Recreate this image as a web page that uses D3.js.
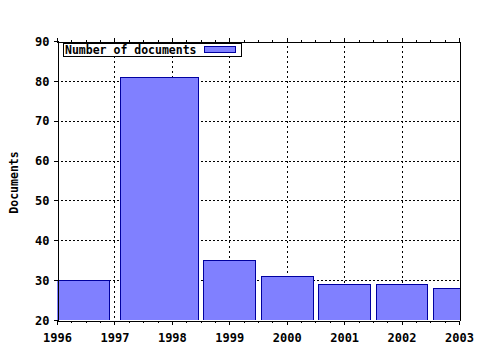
<!DOCTYPE html>
<html><head><meta charset="utf-8">
<script src="https://cdn.jsdelivr.net/npm/d3@7"></script>
<style>body{margin:0;background:#fff}svg{display:block}</style>
</head><body>
<svg id="c" width="480" height="350"></svg>
<script>
const years = [1996, 1998, 1999, 2000, 2001, 2002, 2003];
const documents = [30, 81, 35, 31, 29, 29, 28];
const xTickValues = [1996, 1997, 1998, 1999, 2000, 2001, 2002, 2003];
const yTickValues = [20, 30, 40, 50, 60, 70, 80, 90];
const seriesName = "Number of documents";
const yTitle = "Documents";
const boxFraction = 0.9;

const W = 480, H = 350;
const plot = {left: 57, right: 459, top: 41, bottom: 320};
const FONT = "'DejaVu Sans Mono', monospace";
const fill = "#8080ff", stroke = "#0000a0";

const svg = d3.select("#c");
svg.append("rect").attr("width", W).attr("height", H).attr("fill", "#fff");

const x = d3.scaleLinear().domain([xTickValues[0], xTickValues[xTickValues.length-1]]).range([plot.left, plot.right]);
const y = d3.scaleLinear().domain([yTickValues[0], yTickValues[yTickValues.length-1]]).range([plot.bottom, plot.top]);

// grid
const grid = svg.append("g").attr("stroke", "#000").attr("stroke-width", 1).attr("shape-rendering", "crispEdges");
grid.selectAll("line.gy").data(yTickValues.slice(1, -1)).join("line")
  .attr("stroke-dasharray", "2,2")
  .attr("x1", plot.left).attr("x2", plot.right)
  .attr("y1", d => Math.round(y(d)) + 0.5).attr("y2", d => Math.round(y(d)) + 0.5);
grid.selectAll("line.gx").data(xTickValues.slice(1, -1)).join("line")
  .attr("stroke-dasharray", "2,3")
  .attr("y1", plot.top).attr("y2", plot.bottom)
  .attr("x1", d => Math.round(x(d)) + 0.5).attr("x2", d => Math.round(x(d)) + 0.5);

// bars (gnuplot-style auto box widths)
const n = years.length;
const boxes = years.map((yr, i) => {
  const lh = i > 0 ? (yr - years[i-1]) / 2 : (years[1] - years[0]) / 2;
  const rh = i < n - 1 ? (years[i+1] - yr) / 2 : lh;
  return {lo: yr - boxFraction * lh, hi: yr + boxFraction * rh, v: documents[i]};
});
svg.append("clipPath").attr("id", "clip").append("rect")
  .attr("x", plot.left).attr("y", plot.top).attr("width", plot.right - plot.left + 1).attr("height", plot.bottom - plot.top);
svg.append("g").attr("clip-path", "url(#clip)")
  .selectAll("rect").data(boxes).join("rect")
  .attr("x", d => Math.round(x(d.lo)) + 0.5)
  .attr("y", d => Math.round(y(d.v)) + 0.5)
  .attr("width", d => Math.round(x(d.hi)) - Math.round(x(d.lo)))
  .attr("height", d => Math.round(y(yTickValues[0])) - Math.round(y(d.v)))
  .attr("fill", fill).attr("stroke", stroke).attr("stroke-width", 1)
  .attr("shape-rendering", "crispEdges");

// axes
const minorTicks = d3.range(xTickValues[0], xTickValues[xTickValues.length-1], 0.25).filter(v => v % 1 !== 0);
const gB = svg.append("g").attr("transform", `translate(0,${plot.bottom + 0.5})`)
  .call(d3.axisBottom(x).tickValues(xTickValues).tickFormat(d3.format("d")).tickSize(4).tickPadding(9));
const gT = svg.append("g").attr("transform", `translate(0,${plot.top + 0.5})`)
  .call(d3.axisTop(x).tickValues(xTickValues).tickFormat("").tickSize(4));
svg.append("g").attr("transform", `translate(0,${plot.bottom + 0.5})`)
  .call(d3.axisBottom(x).tickValues(minorTicks).tickFormat("").tickSize(2)).select(".domain").remove();
svg.append("g").attr("transform", `translate(0,${plot.top + 0.5})`)
  .call(d3.axisTop(x).tickValues(minorTicks).tickFormat("").tickSize(2)).select(".domain").remove();
const gL = svg.append("g").attr("transform", `translate(${plot.left + 0.5},0)`)
  .call(d3.axisLeft(y).tickValues(yTickValues).tickSize(4).tickPadding(4));
const gR = svg.append("g").attr("transform", `translate(${plot.right + 0.5},0)`)
  .call(d3.axisRight(y).tickValues(yTickValues).tickFormat("").tickSize(0));
svg.selectAll(".domain").attr("stroke", "#000").attr("stroke-width", 1).attr("shape-rendering", "crispEdges");
svg.selectAll(".tick line").attr("shape-rendering", "crispEdges");
[gB, gL].forEach(g => g.selectAll("text").attr("font-family", FONT).attr("font-weight", "bold").attr("font-size", 12).attr("fill", "#000"));
gL.selectAll("text").attr("dy", "0.35em");

// y title
svg.append("text").attr("transform", `translate(18,${(plot.top + plot.bottom) / 2 + 2}) rotate(-90)`)
  .attr("text-anchor", "middle").attr("font-family", FONT).attr("font-weight", "bold").attr("font-size", 11.5)
  .text(yTitle);

// legend
const lg = svg.append("g");
lg.append("rect").attr("x", 63.5).attr("y", 43.5).attr("width", 178).attr("height", 13)
  .attr("fill", "#fff").attr("stroke", "#000").attr("shape-rendering", "crispEdges");
lg.append("text").attr("x", 65).attr("y", 54).attr("font-family", FONT).attr("font-weight", "bold").attr("font-size", 11.5).text(seriesName);
lg.append("rect").attr("x", 204.5).attr("y", 46.5).attr("width", 31).attr("height", 6)
  .attr("fill", fill).attr("stroke", stroke).attr("shape-rendering", "crispEdges");
</script>
</body></html>
